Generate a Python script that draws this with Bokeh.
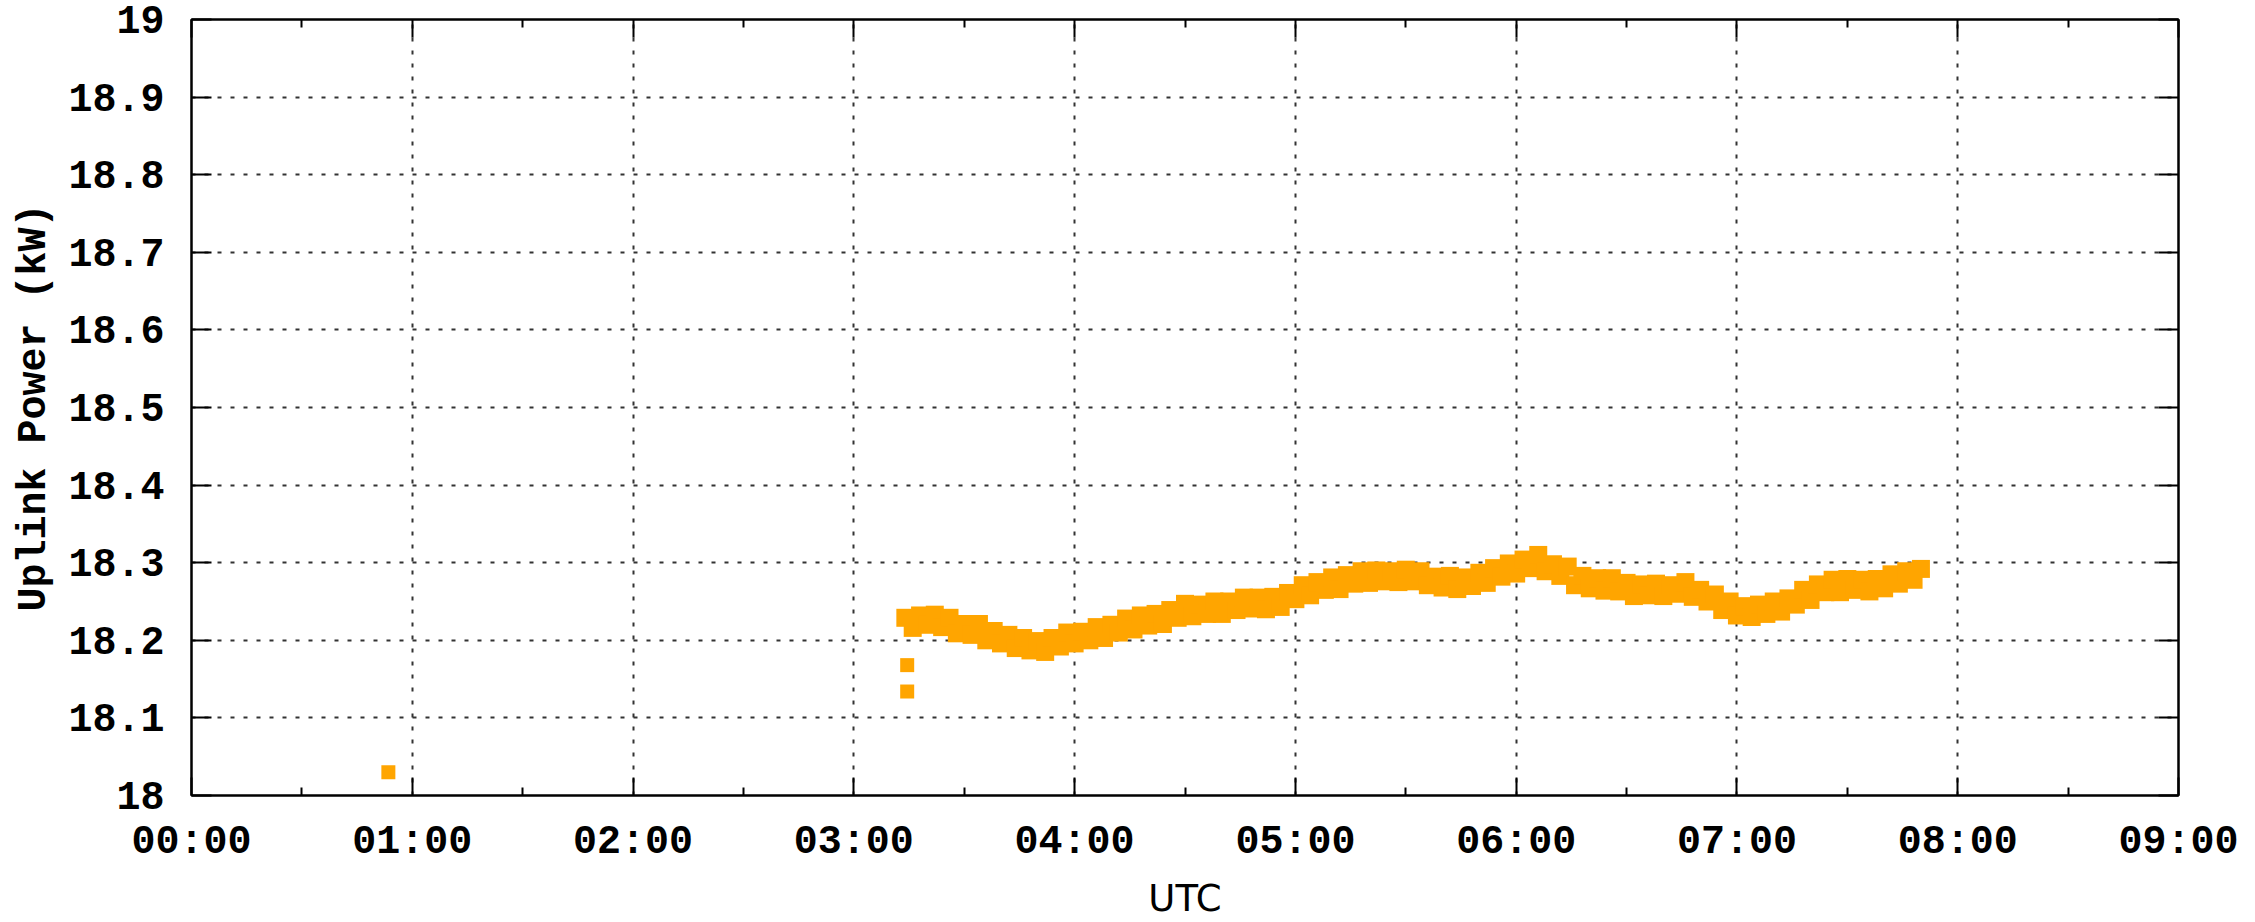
from bokeh.plotting import figure
from bokeh.models import Range1d, FixedTicker, LinearAxis, ColumnDataSource
from bokeh.embed import file_html
from bokeh.resources import INLINE

# ---- data ----
x_tick_minutes = [0, 60, 120, 180, 240, 300, 360, 420, 480, 540]
x_tick_labels = ["00:00", "01:00", "02:00", "03:00", "04:00",
                 "05:00", "06:00", "07:00", "08:00", "09:00"]
x_minor_minutes = [30, 90, 150, 210, 270, 330, 390, 450, 510]
y_ticks = [18.0, 18.1, 18.2, 18.3, 18.4, 18.5, 18.6, 18.7, 18.8, 18.9, 19.0]
y_tick_labels = ["18", "18.1", "18.2", "18.3", "18.4", "18.5",
                 "18.6", "18.7", "18.8", "18.9", "19"]

# isolated early readings
early_minutes = [53.5, 194.5, 194.5]
early_kw = [18.030, 18.168, 18.134]

# continuous record
minutes = [194, 196, 198, 200, 202, 204, 206, 208, 210, 212,
           214, 216, 218, 220, 222, 224, 226, 228, 230, 232,
           234, 236, 238, 240, 242, 244, 246, 248, 250, 252,
           254, 256, 258, 260, 262, 264, 266, 268, 270, 272,
           274, 276, 278, 280, 282, 284, 286, 288, 290, 292,
           294, 296, 298, 300, 302, 304, 306, 308, 310, 312,
           314, 316, 318, 320, 322, 324, 326, 328, 330, 332,
           334, 336, 338, 340, 342, 344, 346, 348, 350, 352,
           354, 356, 358, 360, 362, 364, 366, 368, 370, 372,
           374, 376, 378, 380, 382, 384, 386, 388, 390, 392,
           394, 396, 398, 400, 402, 404, 406, 408, 410, 412,
           414, 416, 418, 420, 422, 424, 426, 428, 430, 432,
           434, 436, 438, 440, 442, 444, 446, 448, 450, 452,
           454, 456, 458, 460, 462, 464, 466, 468, 470]

power_kw = [18.229, 18.216, 18.232, 18.220, 18.233, 18.217, 18.229, 18.209, 18.221, 18.207,
            18.221, 18.200, 18.212, 18.196, 18.207, 18.190, 18.203, 18.187, 18.199, 18.185,
            18.203, 18.192, 18.210, 18.196, 18.211, 18.200, 18.217, 18.203, 18.220, 18.210,
            18.228, 18.214, 18.232, 18.219, 18.234, 18.221, 18.239, 18.229, 18.247, 18.231,
            18.246, 18.234, 18.250, 18.234, 18.250, 18.239, 18.255, 18.241, 18.255, 18.240,
            18.256, 18.243, 18.261, 18.253, 18.271, 18.258, 18.275, 18.265, 18.281, 18.266,
            18.284, 18.273, 18.289, 18.274, 18.290, 18.276, 18.289, 18.275, 18.291, 18.276,
            18.289, 18.271, 18.282, 18.268, 18.283, 18.266, 18.281, 18.270, 18.287, 18.274,
            18.293, 18.282, 18.299, 18.286, 18.304, 18.293, 18.310, 18.289, 18.298, 18.283,
            18.295, 18.271, 18.283, 18.267, 18.280, 18.264, 18.280, 18.263, 18.274, 18.257,
            18.272, 18.258, 18.273, 18.257, 18.271, 18.260, 18.275, 18.256, 18.265, 18.250,
            18.259, 18.239, 18.250, 18.232, 18.244, 18.230, 18.246, 18.234, 18.250, 18.237,
            18.254, 18.246, 18.265, 18.252, 18.272, 18.262, 18.278, 18.262, 18.279, 18.265,
            18.278, 18.263, 18.279, 18.267, 18.285, 18.273, 18.289, 18.278, 18.292]

# ---- figure ----
MONO = "Liberation Mono"
GRID_COLOR = "#333333"
ORANGE = "#FFA500"

p = figure(frame_width=1987, frame_height=776,
           x_range=Range1d(0, 540), y_range=Range1d(18, 19),
           output_backend="svg", toolbar_location=None,
           min_border_left=191, min_border_top=19,
           min_border_right=61, min_border_bottom=111,
           background_fill_color="white", border_fill_color="white")
p.outline_line_color = "black"
p.outline_line_width = 2

# bottom axis
xa = p.xaxis[0]
xa.ticker = FixedTicker(ticks=x_tick_minutes, minor_ticks=x_minor_minutes)
xa.major_label_overrides = dict(zip(x_tick_minutes, x_tick_labels))
xa.major_label_text_font = MONO
xa.major_label_text_font_style = "bold"
xa.major_label_text_font_size = "40px"
xa.major_label_text_color = "black"
xa.major_label_standoff = 24
xa.major_tick_in = 18
xa.major_tick_out = 0
xa.minor_tick_in = 8
xa.minor_tick_out = 0
xa.major_tick_line_width = 2
xa.minor_tick_line_width = 2
xa.axis_line_width = 2
xa.axis_label = "UTC"
xa.axis_label_text_font = "DejaVu Sans"
xa.axis_label_text_font_style = "normal"
xa.axis_label_text_font_size = "37px"
xa.axis_label_text_color = "black"
xa.axis_label_standoff = 9

# left axis
ya = p.yaxis[0]
ya.ticker = FixedTicker(ticks=y_ticks)
ya.major_label_overrides = dict(zip(y_ticks, y_tick_labels))
ya.major_label_text_font = MONO
ya.major_label_text_font_style = "bold"
ya.major_label_text_font_size = "40px"
ya.major_label_text_color = "black"
ya.major_label_standoff = 27
ya.major_tick_in = 20
ya.major_tick_out = 0
ya.minor_tick_line_color = None
ya.major_tick_line_width = 2
ya.axis_line_width = 2
ya.axis_label = "Uplink Power (kW)"
ya.axis_label_text_font = MONO
ya.axis_label_text_font_style = "bold"
ya.axis_label_text_font_size = "40px"
ya.axis_label_text_color = "black"
ya.axis_label_standoff = 8

# mirrored axes (ticks only, labels not drawn)
ry = LinearAxis(ticker=FixedTicker(ticks=y_ticks), major_tick_in=20, major_tick_out=0,
                major_label_text_font_size="10px", major_label_text_color=None,
                major_label_standoff=0,
                minor_tick_line_color=None, major_tick_line_width=2, axis_line_width=2)
p.add_layout(ry, "right")
tx = LinearAxis(ticker=FixedTicker(ticks=x_tick_minutes, minor_ticks=x_minor_minutes),
                major_tick_in=18, major_tick_out=0, minor_tick_in=8, minor_tick_out=0,
                major_label_text_font_size="10px", major_label_text_color=None,
                major_label_standoff=0,
                major_tick_line_width=2, minor_tick_line_width=2, axis_line_width=2)
p.add_layout(tx, "above")

# grid
p.xgrid.ticker = FixedTicker(ticks=x_tick_minutes)
p.ygrid.ticker = FixedTicker(ticks=y_ticks)
for g in (p.xgrid[0], p.ygrid[0]):
    g.grid_line_color = GRID_COLOR
    g.grid_line_width = 2
    g.grid_line_dash = "4 9"

early_src = ColumnDataSource(data=dict(minutes=early_minutes, power_kw=early_kw))
p.scatter(x="minutes", y="power_kw", source=early_src, marker="square", size=14,
          fill_color=ORANGE, line_color=ORANGE, line_width=0)

src = ColumnDataSource(data=dict(minutes=minutes, power_kw=power_kw))
p.scatter(x="minutes", y="power_kw", source=src, marker="square", size=18,
          fill_color=ORANGE, line_color=ORANGE, line_width=0)

open("out.html", "w").write(file_html(p, INLINE))
